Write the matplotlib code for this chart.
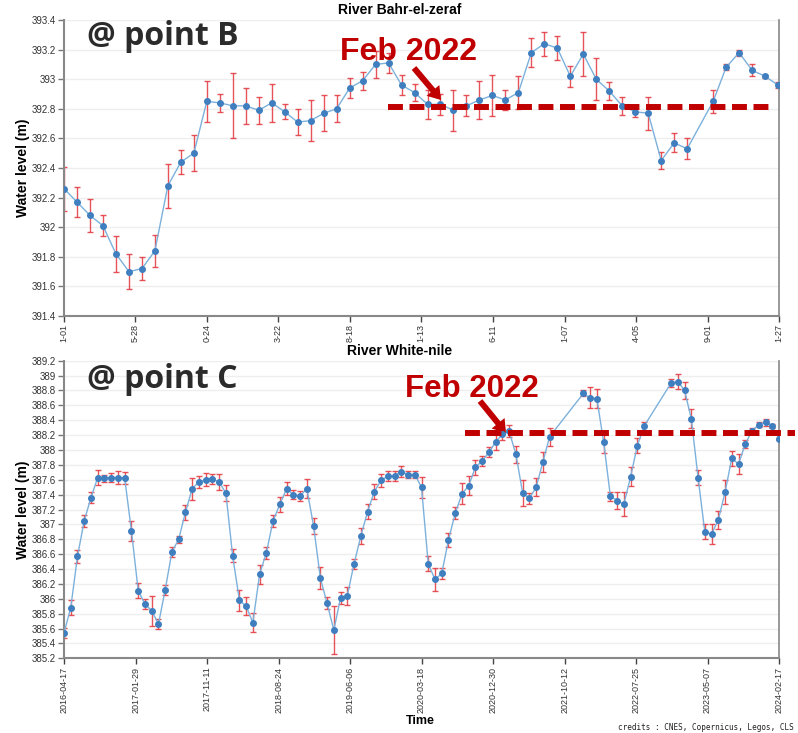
import numpy as np
import pandas as pd
import matplotlib
matplotlib.use("Agg")
import matplotlib.pyplot as plt
from matplotlib.ticker import FuncFormatter

plt.rcParams["font.family"] = ["Liberation Sans", "DejaVu Sans"]

RED = "#c00000"
W, H = 798, 733

# Station B - River Bahr-el-zeraf (27-day repeat passes, missing passes skipped)
b_start = "2016-01-01"
b_cycle = list(range(0, 49)) + list(range(50, 56))
b_level = [392.26, 392.17, 392.08, 392.01, 391.82, 391.70, 391.72, 391.84, 392.28, 392.44,
           392.50, 392.85, 392.84, 392.82, 392.82, 392.79, 392.84, 392.78, 392.71, 392.72,
           392.77, 392.80, 392.94, 392.99, 393.10, 393.11, 392.96, 392.91, 392.83, 392.83,
           392.79, 392.82, 392.86, 392.89, 392.86, 392.91, 393.18, 393.24, 393.21, 393.02,
           393.17, 393.00, 392.92, 392.82, 392.78, 392.77, 392.45, 392.57, 392.53,
           392.85, 393.08, 393.18, 393.06, 393.02, 392.96]
b_err = [0.15, 0.10, 0.11, 0.07, 0.12, 0.12, 0.08, 0.11, 0.15, 0.08,
         0.12, 0.14, 0.06, 0.22, 0.12, 0.09, 0.13, 0.05, 0.09, 0.14,
         0.12, 0.09, 0.07, 0.06, 0.09, 0.07, 0.07, 0.06, 0.10, 0.07,
         0.14, 0.07, 0.13, 0.14, 0.07, 0.11, 0.10, 0.08, 0.08, 0.07,
         0.15, 0.14, 0.06, 0.06, 0.035, 0.11, 0.06, 0.065, 0.07,
         0.08, 0.02, 0.02, 0.04, 0.01, 0.02]
b_ticks = ["2016-01-01", "2016-05-28", "2016-10-24", "2017-03-22", "2017-08-18", "2018-01-13",
           "2018-06-11", "2018-11-07", "2019-04-05", "2019-09-01", "2020-01-27"]
b_feb2022 = 392.81

# Station C - River White-nile
c_start = "2016-04-17"
c_cycle = list(range(0, 73)) + list(range(77, 87)) + list(range(90, 107))
c_level = [385.54, 385.88, 386.57, 387.05, 387.36, 387.63, 387.62, 387.63, 387.63, 387.62,
           386.91, 386.11, 385.93, 385.84, 385.66, 386.12, 386.63, 386.80, 387.16, 387.48,
           387.57, 387.60, 387.61, 387.57, 387.42, 386.58, 385.98, 385.90, 385.68, 386.33,
           386.62, 387.05, 387.27, 387.48, 387.40, 387.38, 387.48, 386.98, 386.28, 385.94,
           385.58, 386.01, 386.04, 386.47, 386.84, 387.17, 387.44, 387.59, 387.65, 387.65,
           387.71, 387.67, 387.67, 387.50, 386.47, 386.26, 386.34, 386.79, 387.15, 387.41,
           387.52, 387.77, 387.85, 387.97, 388.11, 388.21, 388.25, 387.94, 387.42, 387.35,
           387.50, 387.84, 388.18,
           388.76, 388.70, 388.69, 388.11, 387.38, 387.32, 387.27, 387.64, 388.06, 388.32,
           388.90, 388.92, 388.80, 388.42, 387.63, 386.90, 386.87, 387.06, 387.43, 387.89,
           387.81, 388.08, 388.26, 388.34, 388.37, 388.32, 388.15]
c_err = [0.07, 0.10, 0.09, 0.08, 0.07, 0.10, 0.05, 0.06, 0.09, 0.08,
         0.14, 0.10, 0.07, 0.20, 0.07, 0.07, 0.07, 0.05, 0.10, 0.15,
         0.08, 0.09, 0.07, 0.11, 0.11, 0.09, 0.14, 0.12, 0.13, 0.13,
         0.08, 0.08, 0.10, 0.09, 0.06, 0.07, 0.13, 0.11, 0.15, 0.08,
         0.32, 0.08, 0.12, 0.07, 0.11, 0.10, 0.10, 0.09, 0.07, 0.07,
         0.07, 0.05, 0.05, 0.14, 0.10, 0.16, 0.08, 0.09, 0.08, 0.14,
         0.13, 0.10, 0.07, 0.07, 0.11, 0.07, 0.08, 0.12, 0.17, 0.07,
         0.12, 0.13, 0.12,
         0.04, 0.14, 0.13, 0.15, 0.06, 0.11, 0.16, 0.13, 0.10, 0.06,
         0.05, 0.10, 0.12, 0.13, 0.10, 0.10, 0.14, 0.12, 0.16, 0.10,
         0.13, 0.05, 0.03, 0.03, 0.05, 0.03, 0.01]
c_ticks = ["2016-04-17", "2017-01-29", "2017-11-11", "2018-08-24", "2019-06-06", "2020-03-18",
           "2020-12-30", "2021-10-12", "2022-07-25", "2023-05-07", "2024-02-17"]
c_feb2022 = 388.23


def fx(px):
    return px / W


def fy(py):
    return 1 - py / H


def plot_station(ax, start, cycle, level, err, ticks, title, ylim, ystep, short_labels=False):
    dates = pd.Timestamp(start) + pd.to_timedelta(np.array(cycle) * 27, unit="D")
    ax.errorbar(dates, level, yerr=err, fmt="none", ecolor="#e2363c", elinewidth=1,
                capsize=2, capthick=1, alpha=0.85, zorder=2)
    ax.plot(dates, level, color="#7cb1dc", lw=1, zorder=3)
    ax.plot(dates, level, "o", ms=4, color="#3f7fbf", zorder=4)

    tick_dates = pd.to_datetime(ticks)
    ax.set_xlim(tick_dates[0], tick_dates[-1])
    ax.set_xticks(tick_dates)
    labels = [t[-4:] if short_labels else t for t in ticks]
    ax.set_xticklabels(labels, rotation=90, fontsize=6.5, color="#333333")

    ax.set_ylim(*ylim)
    ax.set_yticks(np.arange(ylim[0], ylim[1] + ystep / 2, ystep))
    ax.yaxis.set_major_formatter(FuncFormatter(lambda v, p: f"{v:.1f}".rstrip("0").rstrip(".")))
    ax.tick_params(axis="y", labelsize=7, labelcolor="#333333", length=4, width=1,
                   color="#777777", pad=2)
    ax.tick_params(axis="x", length=4, width=1, color="#444444", pad=2)

    ax.yaxis.grid(True, color="#eeeeee", lw=1)
    ax.set_axisbelow(True)
    ax.spines["top"].set_visible(False)
    for side in ["left", "bottom", "right"]:
        ax.spines[side].set_color("#888888")
    ax.spines["left"].set_linewidth(1.5)
    ax.spines["bottom"].set_linewidth(1.5)
    ax.spines["right"].set_linewidth(1.2)

    # title sits on the figure centre rather than the axes centre
    ax.set_title(title, fontsize=10, fontweight="bold", pad=4, x=(400 - 64) / 715)
    ax.set_ylabel("Water level (m)", fontsize=10, fontweight="bold")
    ax.yaxis.set_label_coords(-0.047, 0.5)


fig = plt.figure(figsize=(W / 100, H / 100), dpi=100)
ax_b = fig.add_axes([fx(64), fy(316), fx(715), 296 / H])
ax_c = fig.add_axes([fx(64), fy(658.3), fx(715), 297.6 / H])

plot_station(ax_b, b_start, b_cycle, b_level, b_err, b_ticks, "River Bahr-el-zeraf",
             (391.4, 393.4), 0.2, short_labels=True)
plot_station(ax_c, c_start, c_cycle, c_level, c_err, c_ticks, "River White-nile",
             (385.2, 389.2), 0.2)

# Feb 2022 reference levels
ax_b.plot([0.453, 0.994], [b_feb2022, b_feb2022], transform=ax_b.get_yaxis_transform(),
          color=RED, lw=4.3, ls=(0, (2.5, 1.1)), solid_capstyle="butt", zorder=5)
ax_c.plot([0.561, 1.022], [c_feb2022, c_feb2022], transform=ax_c.get_yaxis_transform(),
          color=RED, lw=4.3, ls=(0, (2.5, 1.1)), solid_capstyle="butt", zorder=5,
          clip_on=False)

arrow = dict(facecolor=RED, edgecolor="none", width=4.3, headwidth=12, headlength=9, shrink=0)
fig.text(fx(340), fy(60), "Feb 2022", color=RED, fontsize=23, fontweight="bold", va="baseline")
fig.text(fx(405), fy(397), "Feb 2022", color=RED, fontsize=22.5, fontweight="bold", va="baseline")
ax_b.annotate("", xy=(fx(441), fy(100)), xytext=(fx(414), fy(68)),
              xycoords="figure fraction", arrowprops=arrow)
ax_c.annotate("", xy=(fx(506), fy(433)), xytext=(fx(480), fy(401)),
              xycoords="figure fraction", arrowprops=arrow)

fig.text(fx(87), fy(45), "@ point B", family="Open Sans", fontweight="bold",
         fontsize=23, color="#2b2b2b", va="baseline")
fig.text(fx(87), fy(388), "@ point C", family="Open Sans", fontweight="bold",
         fontsize=23, color="#2b2b2b", va="baseline")

fig.text(fx(420), fy(721), "Time", ha="center", va="center", fontsize=9, fontweight="bold")
fig.text(fx(618), fy(727), "credits : CNES, Copernicus, Legos, CLS", family="DejaVu Sans Mono",
         fontsize=5.5, va="center", ha="left", color="#222222")

fig.savefig("out.png", dpi=100, facecolor="white")
